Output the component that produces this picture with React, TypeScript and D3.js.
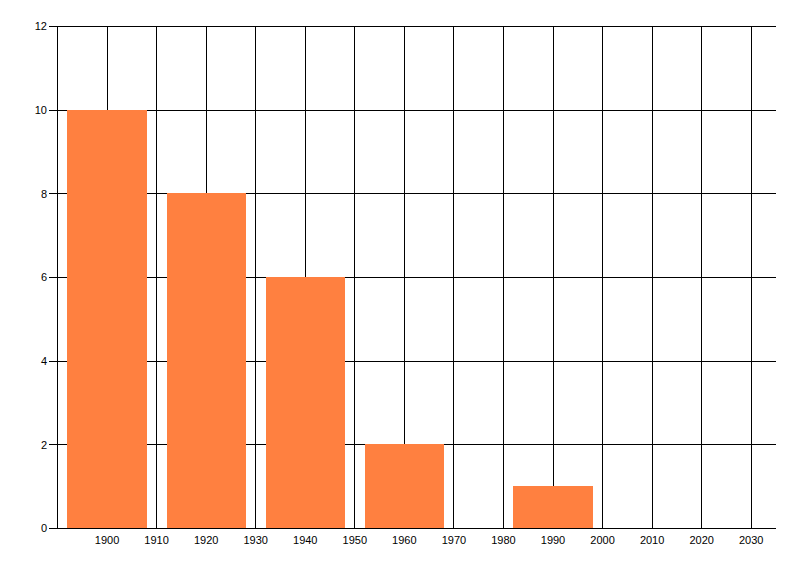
import { scaleLinear, range } from "d3";

const width = 800;
const height = 576;

const years = [1900, 1920, 1940, 1960, 1990];
const counts = [10, 8, 6, 2, 1];
const xTicks = range(1900, 2031, 10);
const yTicks = [0, 2, 4, 6, 8, 10, 12];
const barSpan = 16;

const x = scaleLinear().domain([1890, 2035]).range([57.5, 776]);
const y = scaleLinear().domain([0, 12]).range([528.5, 26.5]);

const font = "'Liberation Sans', Arial, sans-serif";

export default function App() {
  return (
    <svg
      width={width}
      height={height}
      style={{ position: "absolute", left: 0, top: 0, background: "#fff" }}
    >
      <g stroke="#000" strokeWidth={1} shapeRendering="crispEdges">
        {yTicks.map((t) => (
          <line key={t} x1={49} x2={x(2035)} y1={y(t)} y2={y(t)} />
        ))}
        {xTicks.map((t) => (
          <line key={t} x1={x(t)} x2={x(t)} y1={y(12)} y2={y(0)} />
        ))}
        <line x1={x(1890)} x2={x(1890)} y1={y(12)} y2={y(0)} />
      </g>
      {years.map((yr, i) => (
        <rect
          key={yr}
          x={x(yr - barSpan / 2)}
          y={y(counts[i]) - 0.5}
          width={x(yr + barSpan / 2) - x(yr - barSpan / 2)}
          height={y(0) - y(counts[i])}
          fill="#ff8040"
          shapeRendering="crispEdges"
        />
      ))}
      <g fontFamily={font} fontSize={11} fill="#000">
        {yTicks.map((t) => (
          <text key={t} x={47} y={y(t)} dy="0.35em" textAnchor="end">
            {t}
          </text>
        ))}
        {xTicks.map((t) => (
          <text key={t} x={x(t)} y={540} dy="0.35em" textAnchor="middle">
            {t}
          </text>
        ))}
      </g>
    </svg>
  );
}
